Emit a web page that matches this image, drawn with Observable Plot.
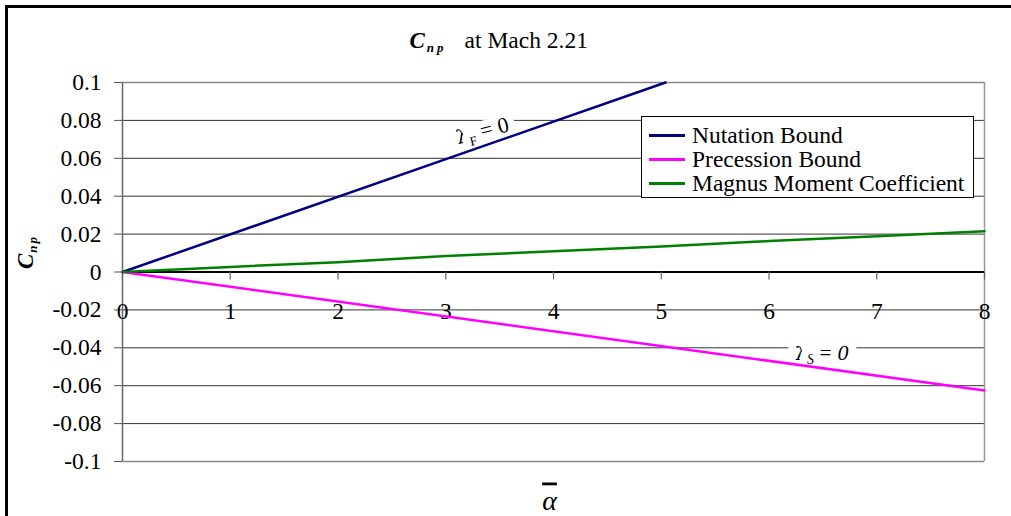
<!DOCTYPE html>
<html>
<head>
<meta charset="utf-8">
<script src="https://cdn.jsdelivr.net/npm/d3@7"></script>
<script src="https://cdn.jsdelivr.net/npm/@observablehq/plot@0.6"></script>
<style>
html, body { margin: 0; padding: 0; background: #fff; }
#wrap { position: relative; width: 1011px; height: 516px; overflow: hidden; font-family: "Liberation Serif", "Times New Roman", serif; }
#wrap svg { position: absolute; left: 0; top: 0; font-family: "Liberation Serif", serif !important; }
#wrap svg text { font-family: "Liberation Serif", serif !important; font-variant: normal !important; }
#wrap svg tspan.greek { font-family: "DejaVu Serif", serif !important; }
#frame { position: absolute; left: 5px; top: 5px; width: 1100px; height: 600px; border-left: 3px solid #000; border-top: 3px solid #000; pointer-events: none; }
#legend { position: absolute; left: 641px; top: 116px; width: 331px; height: 80px; border: 1px solid #000; background: #fff; box-sizing: content-box; }
#legend .row { position: relative; height: 24px; line-height: 24px; font-size: 23.5px; color: #000; white-space: nowrap; }
#legend .row:first-child { margin-top: 6px; }
#legend .sw { position: absolute; left: 7px; top: 11px; width: 36px; height: 3px; }
#legend .lb { position: absolute; left: 50px; top: 0; }
</style>
</head>
<body>
<div id="wrap"><div id="chart"></div><div id="legend"></div><div id="frame"></div></div>
<script>
// ---- data ----
const xTicks = [0, 1, 2, 3, 4, 5, 6, 7, 8];
const xTickLabels = ["0", "1", "2", "3", "4", "5", "6", "7", "8"];
const yTicks = [0.1, 0.08, 0.06, 0.04, 0.02, 0, -0.02, -0.04, -0.06, -0.08, -0.1];
const yTickLabels = ["0.1", "0.08", "0.06", "0.04", "0.02", "0", "-0.02", "-0.04", "-0.06", "-0.08", "-0.1"];

const seriesNames = ["Nutation Bound", "Precession Bound", "Magnus Moment Coefficient"];
const seriesColors = ["#000080", "#FF00FF", "#008000"];

const nutationX = [0, 5.04];
const nutationY = [0, 0.1];
const precessionX = [0, 8];
const precessionY = [0, -0.0625];
const magnusX = [0, 1, 2, 3, 4, 5, 6, 7, 8];
const magnusY = [0, 0.0027, 0.0052, 0.0085, 0.0109, 0.0134, 0.0163, 0.0189, 0.0215];

const titleText = "Cnp at Mach 2.21";
const yLabelText = "Cnp";
const xLabelText = "\u03B1";
const annotF = { x: 3.34, y: 0.0745, text: "lambdaF" };
const annotS = { x: 6.49, y: -0.0425, text: "lambdaS" };

// ---- build table ----
const rows = [];
nutationX.forEach((x, i) => rows.push({ series: seriesNames[0], x, y: nutationY[i] }));
precessionX.forEach((x, i) => rows.push({ series: seriesNames[1], x, y: precessionY[i] }));
magnusX.forEach((x, i) => rows.push({ series: seriesNames[2], x, y: magnusY[i] }));

const innerGrid = yTicks.filter(v => v !== 0 && Math.abs(v) !== 0.1);
const FF = "Liberation Serif";

const plot = Plot.plot({
  width: 1011,
  height: 516,
  marginLeft: 122,
  marginRight: 27,
  marginTop: 82,
  marginBottom: 55,
  style: { fontFamily: FF, fontSize: "23px", color: "#000", background: "transparent" },
  x: { domain: [0, 8], axis: null },
  y: { domain: [-0.1, 0.1], axis: null },
  color: { domain: seriesNames, range: seriesColors },
  marks: [
    Plot.ruleY(innerGrid, { stroke: "#333", strokeWidth: 1 }),
    Plot.ruleY([0.1, -0.1], { stroke: "#888", strokeWidth: 1.5 }),
    Plot.ruleX([8], { stroke: "#999", strokeWidth: 1.5 }),
    Plot.ruleX([0], { stroke: "#666", strokeWidth: 1.5 }),
    Plot.axisY(yTicks, { tickSize: 8, tickPadding: 13, stroke: "#555", fill: "#000", label: null, fontFamily: FF,
      tickFormat: d => yTickLabels[yTicks.indexOf(d)], fontSize: 23.5 }),
    Plot.ruleY([0], { stroke: "#000", strokeWidth: 2 }),
    Plot.ruleX(xTicks, { x: d => d, y1: 0, y2: -0.0042, stroke: "#666", strokeWidth: 1.2 }),
    Plot.text(xTicks, { x: d => d, y: () => 0, text: (d, i) => xTickLabels[i], dy: 39, lineAnchor: "middle", fontSize: 23.5, fontFamily: FF, fill: "#000" }),
    Plot.text([annotF], { x: "x", y: "y", text: "text", rotate: -14, fontSize: 22, fontFamily: FF, fill: "#000", stroke: "#fff", strokeWidth: 14, paintOrder: "stroke", lineAnchor: "middle" }),
    Plot.text([annotS], { x: "x", y: "y", text: "text", fontSize: 22, fontFamily: FF, fill: "#000", stroke: "#fff", strokeWidth: 16, paintOrder: "stroke", lineAnchor: "middle" }),
    Plot.line(rows, { x: "x", y: "y", z: "series", stroke: "series", strokeWidth: 2.5 }),
    Plot.text([titleText], { frameAnchor: "top-left", text: d => d, textAnchor: "start", lineAnchor: "bottom", dx: 287, dy: -35, fontSize: 23, fontFamily: FF, fill: "#000" }),
    Plot.text([yLabelText], { frameAnchor: "left", text: d => d, rotate: -90, textAnchor: "middle", lineAnchor: "middle", dx: -97, dy: -19, fontSize: 23, fontFamily: FF, fill: "#000" }),
    Plot.text([xLabelText], { frameAnchor: "bottom", text: d => d, textAnchor: "middle", lineAnchor: "bottom", dx: -4, dy: 48, fontSize: 28, fontStyle: "italic", fontFamily: FF, fill: "#000" })
  ]
});

document.getElementById("chart").appendChild(plot);

// ---- rich text (sub/superscripts, overline) ----
function rich(plain, parts) {
  d3.select(plot).selectAll("text").filter(function () { return this.textContent === plain; }).each(function () {
    const t = d3.select(this);
    t.text(null);
    parts.forEach(p => {
      const s = t.append("tspan").text(p.t).attr("font-size", p.size);
      if (p.cls) s.attr("class", p.cls);
      if (p.weight) s.attr("font-weight", p.weight);
      if (p.style) s.attr("font-style", p.style);
      if (p.deco) s.style("text-decoration", p.deco);
      if (p.dy) s.attr("dy", p.dy);
      if (p.dx) s.attr("dx", p.dx);
    });
  });
}
rich(titleText, [
  { t: "C", size: 23, weight: "bold", style: "italic" },
  { t: "n", size: 13, weight: "bold", style: "italic", dy: 4, dx: 2 },
  { t: "p", size: 13, weight: "bold", style: "italic", dx: 3 },
  { t: "at Mach 2.21", size: 23.5, dy: -4, dx: 21 }
]);
rich(yLabelText, [
  { t: "C", size: 23, weight: "bold", style: "italic" },
  { t: "n", size: 13, weight: "bold", style: "italic", dy: 4, dx: 1 },
  { t: "p", size: 13, weight: "bold", style: "italic", dx: 2 }
]);
rich(xLabelText, [
  { t: "\u03B1", size: 28, style: "italic", deco: "overline" }
]);
rich("lambdaF", [
  { t: "\u03BB", size: 19, cls: "greek" },
  { t: "F", size: 13, dy: 5 },
  { t: " = 0", size: 22, dy: -5 }
]);
rich("lambdaS", [
  { t: "\u03BB", size: 19, cls: "greek" },
  { t: "S", size: 14, style: "italic", dy: 4 },
  { t: " = ", size: 22, dy: -4 },
  { t: "0", size: 22, style: "italic" }
]);

// ---- legend ----
const legend = d3.select("#legend");
seriesNames.forEach((name, i) => {
  const r = legend.append("div").attr("class", "row");
  r.append("span").attr("class", "sw").style("background", seriesColors[i]);
  r.append("span").attr("class", "lb").text(name);
});
</script>
</body>
</html>
